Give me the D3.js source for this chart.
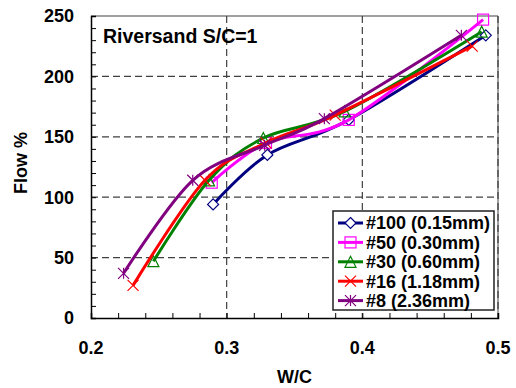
<!DOCTYPE html>
<html>
<head>
<meta charset="utf-8">
<script src="https://cdn.jsdelivr.net/npm/d3@7"></script>
<style>
  body { margin: 0; background: #fff; }
  text { font-family: Arial, "Liberation Sans", sans-serif; font-weight: bold; }
</style>
</head>
<body>
<div id="chart"></div>
<script>
// Data
const seriesNames = ["#100 (0.15mm)", "#50 (0.30mm)", "#30 (0.60mm)", "#16 (1.18mm)", "#8 (2.36mm)"];
const seriesColors = ["#000080", "#ff00ff", "#008000", "#ff0000", "#800080"];
const seriesMarkers = ["diamond", "square", "triangle", "x", "star"];

const wc100 = [0.290, 0.330, 0.390, 0.491];
const flow100 = [94, 135, 164, 234];
const wc50 = [0.289, 0.329, 0.390, 0.489];
const flow50 = [112, 145, 164, 247];
const wc30 = [0.246, 0.287, 0.327, 0.387, 0.488];
const flow30 = [47, 114, 149, 171, 237];
const wc16 = [0.231, 0.284, 0.329, 0.380, 0.481];
const flow16 = [27, 114, 145, 168, 225];
const wc8 = [0.224, 0.275, 0.328, 0.372, 0.473];
const flow8 = [37, 114, 143, 165, 234];

const xTicks = [0.2, 0.3, 0.4, 0.5];
const yTicks = [0, 50, 100, 150, 200, 250];

const allX = [wc100, wc50, wc30, wc16, wc8];
const allY = [flow100, flow50, flow30, flow16, flow8];

const series = seriesNames.map((name, i) => ({
    name,
    color: seriesColors[i],
    marker: seriesMarkers[i],
    points: allX[i].map((x, j) => ({ x, y: allY[i][j] }))
}));

// Layout
const W = 516, H = 388;
const margin = { top: 16, right: 18, bottom: 70, left: 91 };
const width = W - margin.left - margin.right;
const height = H - margin.top - margin.bottom;

const svg = d3.select("#chart")
    .append("svg")
    .attr("width", W)
    .attr("height", H);

const g = svg.append("g")
    .attr("transform", `translate(${margin.left},${margin.top})`);

const x = d3.scaleLinear().domain([0.2, 0.5]).range([0, width]);
const y = d3.scaleLinear().domain([0, 250]).range([height, 0]);

// Frame top/right (gray)
g.append("line").attr("x1", 0).attr("x2", width).attr("y1", 0).attr("y2", 0)
    .attr("stroke", "#808080").attr("stroke-width", 1.5);
g.append("line").attr("x1", width).attr("x2", width).attr("y1", 0).attr("y2", height)
    .attr("stroke", "#808080").attr("stroke-width", 1.5);

// Dashed gridlines
g.selectAll(".gx")
    .data(xTicks.filter(d => d > 0.2))
    .join("line")
    .attr("x1", d => x(d)).attr("x2", d => x(d))
    .attr("y1", 0).attr("y2", height)
    .attr("stroke", "#404040")
    .attr("stroke-width", 1.2)
    .attr("stroke-dasharray", "7,4");

g.selectAll(".gy")
    .data(yTicks.filter(d => d > 0 && d < 250))
    .join("line")
    .attr("x1", 0).attr("x2", width)
    .attr("y1", d => y(d)).attr("y2", d => y(d))
    .attr("stroke", "#404040")
    .attr("stroke-width", 1.2)
    .attr("stroke-dasharray", "7,4");

// Axes with inward ticks
const xMinor = d3.range(0.2, 0.5001, 0.02);
const yMinor = d3.range(0, 250.01, 10);

const xAxis = g.append("g")
    .attr("transform", `translate(0,${height})`)
    .call(d3.axisBottom(x).tickValues(xMinor).tickSize(-5).tickFormat(""));
xAxis.select(".domain").attr("stroke", "#000").attr("stroke-width", 1.5);
xAxis.selectAll(".tick line").attr("stroke", "#000").attr("stroke-width", 1);

const yAxis = g.append("g")
    .call(d3.axisLeft(y).tickValues(yMinor).tickSize(-5).tickFormat(""));
yAxis.select(".domain").attr("stroke", "#000").attr("stroke-width", 1.5);
yAxis.selectAll(".tick line").attr("stroke", "#000").attr("stroke-width", 1);

// Tick labels
g.selectAll(".xl")
    .data(xTicks)
    .join("text")
    .attr("x", d => x(d))
    .attr("y", height + 36)
    .attr("text-anchor", "middle")
    .style("font-size", "18px")
    .text(d => d3.format(".1f")(d));

g.selectAll(".yl")
    .data(yTicks)
    .join("text")
    .attr("x", -17)
    .attr("y", d => y(d))
    .attr("dy", "0.35em")
    .attr("text-anchor", "end")
    .style("font-size", "18px")
    .text(d => d);

// Axis titles
g.append("text")
    .attr("x", width / 2)
    .attr("y", height + 65)
    .attr("text-anchor", "middle")
    .style("font-size", "18px")
    .text("W/C");

g.append("text")
    .attr("transform", "rotate(-90)")
    .attr("x", -height / 2 + 4)
    .attr("y", -64)
    .attr("text-anchor", "middle")
    .style("font-size", "18px")
    .text("Flow %");

// Chart label
g.append("text")
    .attr("x", 12)
    .attr("y", 27)
    .style("font-size", "19.5px")
    .text("Riversand S/C=1");

// Markers
function drawMarker(sel, type, color) {
    const s = 5.5;
    if (type === "diamond") {
        sel.append("path").attr("d", `M0,${-s}L${s},0L0,${s}L${-s},0Z`)
            .attr("fill", "#fff").attr("stroke", color).attr("stroke-width", 1.2);
    } else if (type === "square") {
        sel.append("rect").attr("x", -s).attr("y", -s).attr("width", 2 * s).attr("height", 2 * s)
            .attr("fill", "none").attr("stroke", color).attr("stroke-width", 1.2);
    } else if (type === "triangle") {
        sel.append("path").attr("d", `M0,${-s}L${s},${s}L${-s},${s}Z`)
            .attr("fill", "none").attr("stroke", color).attr("stroke-width", 1.2);
    } else if (type === "x") {
        sel.append("path").attr("d", `M${-s},${-s}L${s},${s}M${s},${-s}L${-s},${s}`)
            .attr("stroke", color).attr("stroke-width", 1.2);
    } else {
        sel.append("path").attr("d", `M${-s},${-s}L${s},${s}M${s},${-s}L${-s},${s}M0,${-s}L0,${s}`)
            .attr("stroke", color).attr("stroke-width", 1.2);
    }
}

// Smooth lines
const line = d3.line()
    .x(d => x(d.x))
    .y(d => y(d.y))
    .curve(d3.curveCardinal.tension(0));

series.forEach(s => {
    g.append("path")
        .datum(s.points)
        .attr("fill", "none")
        .attr("stroke", s.color)
        .attr("stroke-width", 3)
        .attr("d", line);

    s.points.forEach(p => {
        const m = g.append("g").attr("transform", `translate(${x(p.x)},${y(p.y)})`);
        drawMarker(m, s.marker, s.color);
    });
});

// Legend
const legend = g.append("g")
    .attr("transform", `translate(${333 - margin.left},${211 - margin.top})`);

legend.append("rect")
    .attr("width", 161)
    .attr("height", 99)
    .attr("fill", "#fff")
    .attr("stroke", "#222")
    .attr("stroke-width", 1.5);

series.forEach((s, i) => {
    const row = legend.append("g").attr("transform", `translate(0,${12 + i * 19.4})`);
    row.append("line")
        .attr("x1", 5).attr("x2", 30)
        .attr("stroke", s.color).attr("stroke-width", 3);
    const m = row.append("g").attr("transform", "translate(17.5,0)");
    drawMarker(m, s.marker, s.color);
    row.append("text")
        .attr("x", 33)
        .attr("dy", "0.35em")
        .style("font-size", "18px")
        .text(s.name);
});
</script>
</body>
</html>
